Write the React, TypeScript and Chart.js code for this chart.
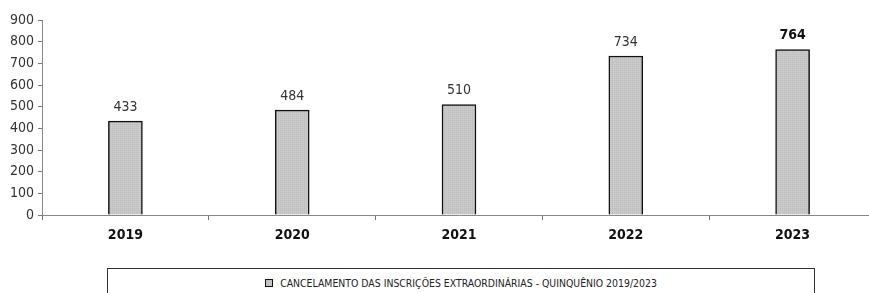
import React, { useEffect, useRef } from "react";
import { Chart, registerables } from "chart.js";

Chart.register(...registerables);

const categories = ["2019", "2020", "2021", "2022", "2023"];
const values = [433, 484, 510, 734, 764];
const yTicks = [0, 100, 200, 300, 400, 500, 600, 700, 800, 900];
const seriesLabel = "CANCELAMENTO DAS INSCRIÇÕES EXTRAORDINÁRIAS  - QUINQUÊNIO 2019/2023";

const FONT = '"DejaVu Sans Condensed", "Liberation Sans Narrow", "Arial Narrow", sans-serif';

function makePattern(): CanvasPattern | string {
  const c = document.createElement("canvas");
  c.width = 2;
  c.height = 2;
  const g = c.getContext("2d");
  if (!g) return "#c4c4c4";
  g.fillStyle = "#c9c9c9";
  g.fillRect(0, 0, 2, 2);
  g.fillStyle = "#bcbcbc";
  g.fillRect(0, 0, 1, 1);
  const p = g.createPattern(c, "repeat");
  return p || "#c4c4c4";
}

const valueLabels = {
  id: "valueLabels",
  afterDatasetsDraw(chart: any) {
    const ctx = chart.ctx;
    const meta = chart.getDatasetMeta(0);
    ctx.save();
    ctx.textAlign = "center";
    ctx.textBaseline = "bottom";
    meta.data.forEach((bar: any, i: number) => {
      const last = i === values.length - 1;
      ctx.font = `${last ? "bold " : ""}14px ${FONT}`;
      ctx.fillStyle = last ? "#111" : "#333";
      ctx.fillText(String(values[i]), bar.x, bar.y - 7);
    });
    ctx.restore();
  },
};

export default function App() {
  const ref = useRef<HTMLCanvasElement | null>(null);
  useEffect(() => {
    if (!ref.current) return;
    const chart = new Chart(ref.current, {
      type: "bar",
      data: {
        labels: categories,
        datasets: [
          {
            label: seriesLabel,
            data: values,
            backgroundColor: makePattern() as any,
            borderColor: "#111",
            borderWidth: 1.5,
            barThickness: 34,
          },
        ],
      },
      options: {
        responsive: false,
        animation: false,
        devicePixelRatio: 1,
        layout: { padding: { left: 0, top: 20, right: 4, bottom: 0 } },
        plugins: {
          legend: { display: false },
          tooltip: { enabled: false },
        },
        scales: {
          x: {
            grid: {
              offset: true,
              drawOnChartArea: false,
              tickLength: 5,
              color: "#777",
            },
            border: { color: "#888", width: 1 },
            ticks: {
              color: "#111",
              padding: 7,
              font: { family: FONT, size: 14, weight: "bold" },
            },
            afterFit: (s: any) => {
              s.height = 35;
            },
          },
          y: {
            min: 0,
            max: 900,
            afterBuildTicks: (s: any) => {
              s.ticks = yTicks.map((v) => ({ value: v }));
            },
            grid: {
              drawOnChartArea: false,
              tickLength: 4,
              color: "#777",
            },
            border: { color: "#888", width: 1 },
            ticks: {
              color: "#333",
              padding: 4,
              font: { family: FONT, size: 14 },
            },
            afterFit: (s: any) => {
              s.width = 42;
            },
          },
        },
      },
      plugins: [valueLabels],
    });
    return () => chart.destroy();
  }, []);

  return (
    <div style={{ position: "absolute", left: 0, top: 0, width: 869, height: 293, overflow: "hidden", background: "#fff" }}>
      <canvas ref={ref} width={880} height={250} style={{ position: "absolute", left: 0, top: 0 }} />
      <div
        style={{
          position: "absolute",
          left: 107,
          top: 268,
          width: 708,
          height: 40,
          border: "1px solid #333",
          boxSizing: "border-box",
        }}
      >
        <div
          style={{
            position: "absolute",
            left: 0,
            right: 0,
            top: 8,
            textAlign: "center",
            fontFamily: FONT,
            fontSize: 10.4,
            color: "#222",
            whiteSpace: "nowrap",
          }}
        >
          <span
            style={{
              display: "inline-block",
              width: 6,
              height: 6,
              border: "1.5px solid #111",
              background: "#c4c4c4",
              marginRight: 7,
              verticalAlign: "middle",
              position: "relative",
              top: -1,
            }}
          />
          {seriesLabel}
        </div>
      </div>
    </div>
  );
}
